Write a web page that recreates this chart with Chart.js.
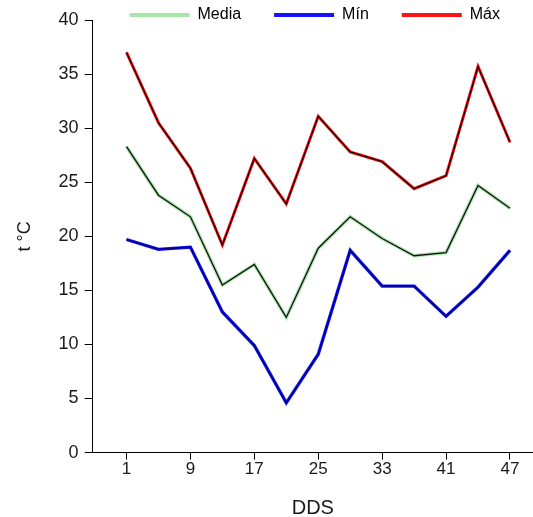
<!DOCTYPE html>
<html>
<head>
<meta charset="utf-8">
<script src="https://cdn.jsdelivr.net/npm/chart.js@4/dist/chart.umd.min.js"></script>
<style>
body { margin: 0; background: #fff; }
</style>
</head>
<body>
<canvas id="tempChart" width="533" height="517"></canvas>
<script>
// dias despues de siembra (DDS) y temperaturas en °C
const dias = ['1', '5', '9', '13', '17', '21', '25', '29', '33', '37', '41', '45', '47'];
const media = [28.3, 23.8, 21.8, 15.5, 17.4, 12.5, 18.9, 21.8, 19.8, 18.2, 18.5, 24.7, 22.6];
const minima = [19.7, 18.8, 19.0, 13.0, 9.9, 4.6, 9.1, 18.7, 15.4, 15.4, 12.6, 15.3, 18.7];
const maxima = [37.0, 30.5, 26.3, 19.2, 27.2, 23.0, 31.1, 27.8, 26.9, 24.4, 25.6, 35.7, 28.7];
const yTicks = [0, 5, 10, 15, 20, 25, 30, 35, 40];

function puntos(arr) {
    return arr.map((v, i) => ({ x: i, y: v }));
}

// cada serie se dibuja dos veces: trazo de color y nucleo oscuro encima
function serie(label, datos, color, nucleo, ancho, anchoNucleo) {
    return [
        { label: label, data: puntos(datos), borderColor: color, backgroundColor: color,
          borderWidth: ancho, pointRadius: 0, order: 2 },
        { label: label + '_n', data: puntos(datos), borderColor: nucleo, borderWidth: anchoNucleo,
          pointRadius: 0, order: 1, nucleo: true }
    ];
}

Chart.defaults.font.family = "'Liberation Sans', Arial, sans-serif";
Chart.defaults.color = '#1a1a1a';

const ctx = document.getElementById('tempChart').getContext('2d');
new Chart(ctx, {
    type: 'line',
    data: {
        datasets: [
            ...serie('Media', media, '#a8e4a8', '#111111', 3.6, 1.3),
            ...serie('Mín', minima, '#1414ff', '#00008a', 3.3, 1.6),
            ...serie('Máx', maxima, '#ff1414', '#1a0000', 3, 1.3)
        ]
    },
    options: {
        responsive: false,
        animation: false,
        // padding superior negativo: la leyenda queda pegada al borde de arriba
        layout: { padding: { left: 14, right: 0, top: -26, bottom: 0 } },
        plugins: {
            tooltip: { enabled: false },
            legend: {
                position: 'top',
                align: 'end',
                maxHeight: 46,
                labels: {
                    boxWidth: 60,
                    boxHeight: 4,
                    padding: 33,
                    font: { size: 16 },
                    filter: (item, data) => !data.datasets[item.datasetIndex].nucleo,
                    generateLabels: chart => chart.data.datasets.map((ds, i) => ({
                        text: ds.label,
                        fillStyle: ds.borderColor,
                        strokeStyle: ds.borderColor,
                        lineWidth: 0,
                        hidden: false,
                        datasetIndex: i
                    }))
                }
            }
        },
        scales: {
            x: {
                type: 'linear',
                min: -1.06,
                max: 12.72,
                afterBuildTicks: s => {
                    s.ticks = dias.map((d, i) => ({ value: i })).filter(t => t.value % 2 === 0);
                },
                ticks: { callback: v => dias[v], font: { size: 17 }, padding: 0, maxRotation: 0 },
                grid: { drawOnChartArea: false, tickLength: 7, color: '#000' },
                border: { color: '#000', width: 1 },
                title: { display: true, text: 'DDS', font: { size: 20 }, padding: { top: 16, bottom: -3 } }
            },
            y: {
                min: 0,
                max: 40,
                afterBuildTicks: s => { s.ticks = yTicks.map(v => ({ value: v })); },
                ticks: { font: { size: 18 }, padding: 6 },
                grid: { drawOnChartArea: false, tickLength: 8, color: '#000' },
                border: { color: '#000', width: 1 },
                title: { display: true, text: 't °C', font: { size: 18 }, padding: { top: 0, bottom: 17 } }
            }
        }
    }
});
</script>
</body>
</html>
